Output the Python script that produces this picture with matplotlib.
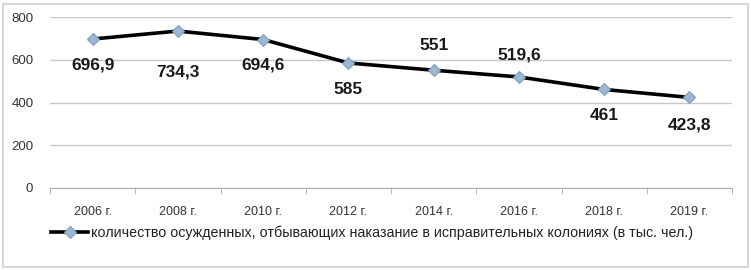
import matplotlib as mpl
import matplotlib.pyplot as plt
import numpy as np

years = ['2006 г.', '2008 г.', '2010 г.', '2012 г.', '2014 г.', '2016 г.', '2018 г.', '2019 г.']
values = [696.9, 734.3, 694.6, 585, 551, 519.6, 461, 423.8]
value_labels = ['696,9', '734,3', '694,6', '585', '551', '519,6', '461', '423,8']
series_name = 'количество осужденных, отбывающих наказание в исправительных колониях (в тыс. чел.)'

# label offsets in pixels (positive = below the point), as placed in the original
label_dy = [26, 41, 25, 27, -25, -22, 26, 28]

plt.rcParams['font.family'] = ['Liberation Sans', 'DejaVu Sans']

fig = plt.figure(figsize=(7.51, 2.70), dpi=100)
ax = fig.add_axes([50 / 751, 1 - 188 / 270, 682 / 751, 171 / 270])

x = np.arange(len(years))
line, = ax.plot(x, values, color='black', lw=2.6, marker='D', markersize=6.5,
                markerfacecolor='#9BB7D4', markeredgecolor='#7E9DBF', markeredgewidth=0.8,
                label=series_name, zorder=3)

for xi, v, lab, dy in zip(x, values, value_labels, label_dy):
    ax.annotate(lab, (xi, v), xytext=(0, -dy), textcoords='offset pixels',
                ha='center', va='center', fontsize=12.5, fontweight='bold', color='#1a1a1a')

ax.set_xlim(-0.5, len(years) - 0.5)
ax.set_ylim(0, 800)
ax.set_yticks([0, 200, 400, 600, 800])
ax.yaxis.grid(True, color='#c8c8c8', lw=1)
ax.set_axisbelow(True)
for s in ['top', 'right', 'left']:
    ax.spines[s].set_visible(False)
ax.spines['bottom'].set_color('#b0b0b0')

ax.set_xticks(x)
ax.set_xticklabels(years, fontsize=9, color='#333333')
ax.set_xticks(np.arange(-0.5, len(years), 1), minor=True)
ax.tick_params(axis='x', which='major', length=0, pad=13)
ax.tick_params(axis='x', which='minor', length=4, color='#b0b0b0')
ax.tick_params(axis='y', length=0, labelsize=9.5, labelcolor='#333333', pad=12)

leg = fig.legend(handles=[line], loc='center', bbox_to_anchor=(372 / 751, 1 - 233 / 270),
                 frameon=False, fontsize=10.3, handlelength=2.6, handletextpad=0.2,
                 labelcolor='#222222')

# thin frame around the whole chart
fig.patches.append(mpl.patches.Rectangle((3 / 751, 3 / 270), 745 / 751, 263 / 270,
                                         transform=fig.transFigure, fill=False,
                                         edgecolor='#d0d0d0', lw=1.2))

plt.savefig('out.png', dpi=100)
